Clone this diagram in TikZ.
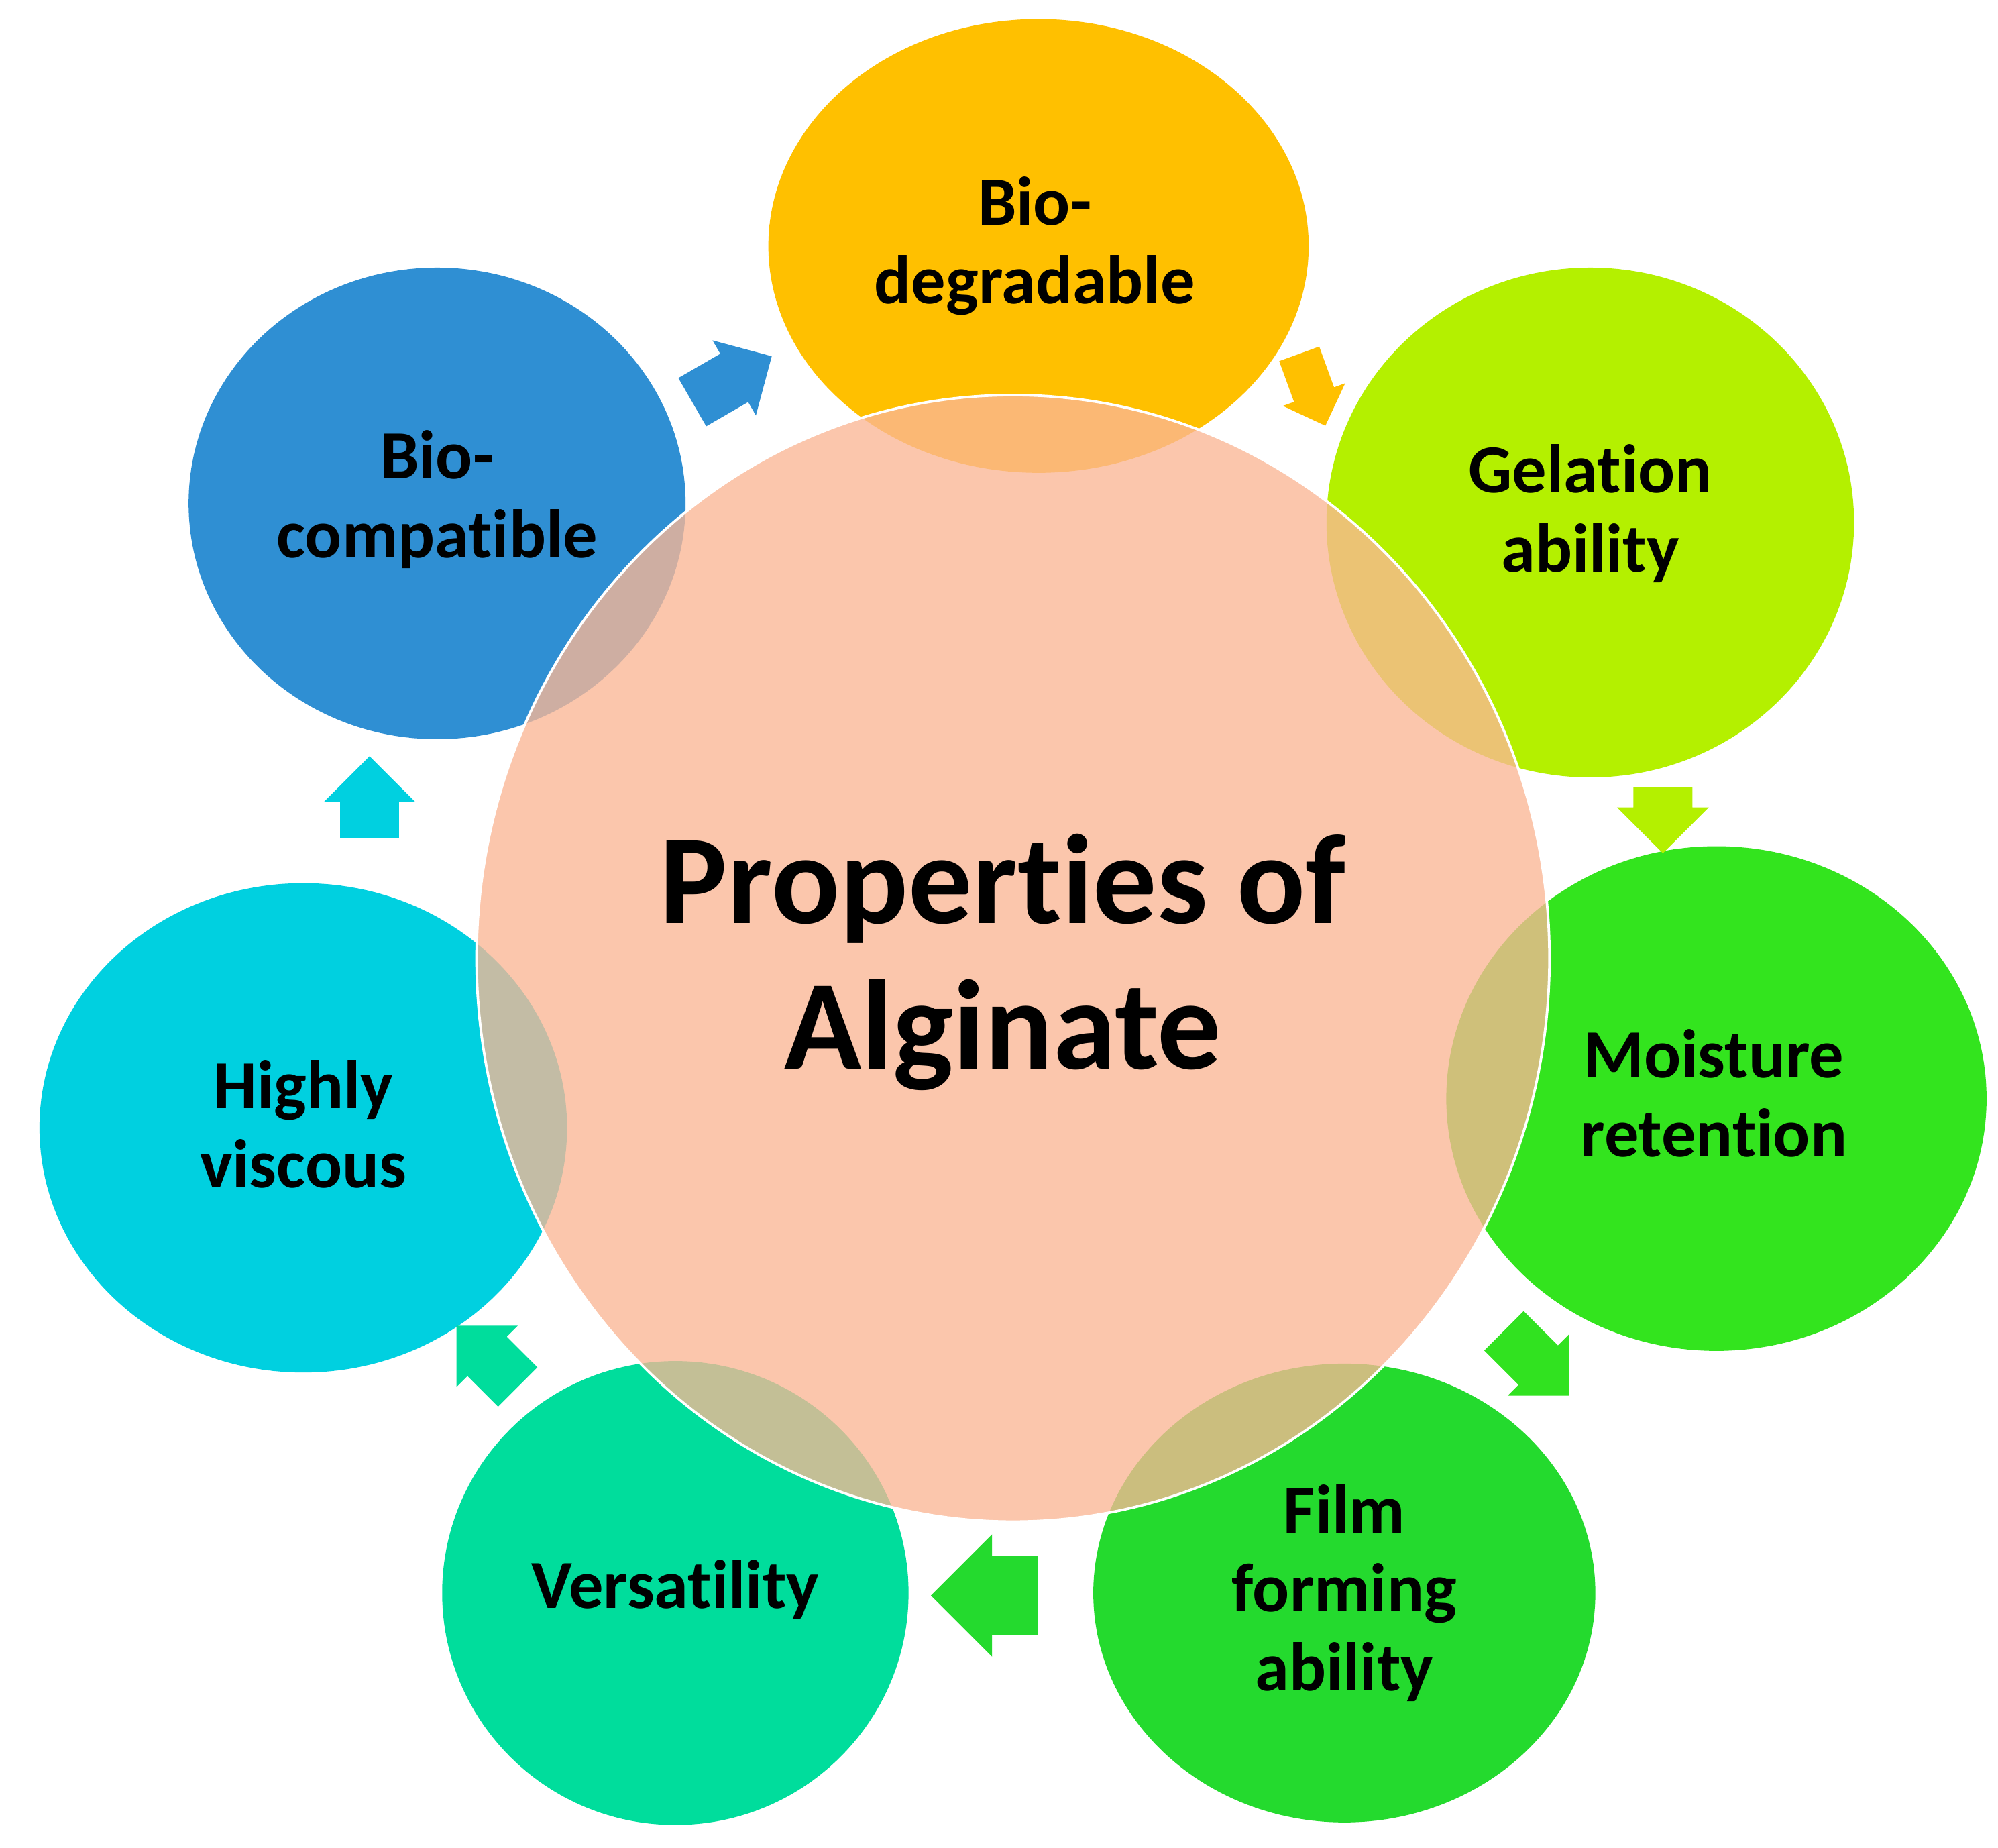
\documentclass[tikz,border=0pt]{standalone}
\usepackage{fontspec}
\setmainfont{Carlito}[RawFeature=-liga]
\usetikzlibrary{shapes.arrows}
\definecolor{cBlue}{HTML}{2F8FD3}
\definecolor{cOrange}{HTML}{FFC000}
\definecolor{cLime}{HTML}{B4F000}
\definecolor{cGreen}{HTML}{33E41E}
\definecolor{cFilm}{HTML}{24DA2E}
\definecolor{cVers}{HTML}{00DD9C}
\definecolor{cCyan}{HTML}{00D0E0}
\definecolor{cPeach}{HTML}{FBB795}
\begin{document}
\begin{tikzpicture}[x=0.5pt,y=-0.5pt,
 lbl/.style={font=\bfseries\fontsize{27}{31}\selectfont,align=center,text=black},
 arr/.style={single arrow,draw=none,minimum height=36pt,minimum width=34pt,single arrow head extend=4pt,inner sep=7pt}]
\useasboundingbox (0,0) rectangle (1568,1450);
\fill[white] (0,0) rectangle (1568,1450);
\fill[cOrange] (815,193) ellipse (212 and 178);
\fill[cLime] (1248,410) ellipse (207 and 200);
\fill[cGreen] (1347,862) ellipse (212 and 198);
\fill[cFilm] (1055,1250) ellipse (197 and 180);
\fill[cVers] (530,1250) ellipse (183 and 182);
\fill[cCyan] (238,885) ellipse (207 and 192);
\fill[cBlue] (343,395) ellipse (195 and 185);
\fill[cPeach,fill opacity=0.78,draw=white,line width=1pt] (795,752) ellipse (421 and 442);
\node[lbl] (bd) at (812,193) {Bio-\\degradable};
\node[lbl] (ga) at (1248,403) {Gelation\\ability};
\node[lbl] (mr) at (1345,858) {Moisture\\retention};
\node[lbl] (ff) at (1055,1250) {Film\\forming\\ability};
\node[lbl] (vs) at (530,1247) {Versatility};
\node[lbl] (hv) at (238,882) {Highly\\viscous};
\node[lbl] (bc) at (343,392) {Bio-\\compatible};
\node[font=\bfseries\fontsize{50}{57}\selectfont,align=center] (t) at (787,755) {Properties of\\Alginate};
\node[arr,fill=cBlue,rotate=30] (a1) at (565,303) {};
\node[arr,fill=cOrange,rotate=-70,minimum height=30pt,minimum width=26pt] (a2) at (1027,298) {};
\node[arr,fill=cLime,rotate=-90,minimum height=22pt,minimum width=36pt] (a3) at (1305,632) {};
\node[arr,fill=cGreen!85!cFilm,rotate=-45] (a4) at (1198,1062) {};
\node[arr,fill=cFilm,rotate=180,minimum height=42pt,minimum width=48pt] (a5) at (788,1252) {};
\node[arr,fill=cVers,rotate=135,minimum height=34pt] (a6) at (390,1072) {};
\node[arr,fill=cCyan,rotate=90,minimum height=32pt,minimum width=36pt] (a7) at (290,637) {};
\end{tikzpicture}
\end{document}
